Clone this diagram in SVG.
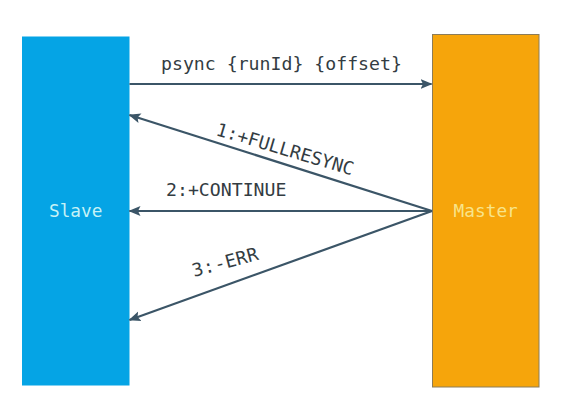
<svg xmlns="http://www.w3.org/2000/svg" width="588" height="406" viewBox="0 0 588 406">
  <style>
    .lbl { font-family: "DejaVu Sans Mono", "Liberation Mono", monospace; font-size: 18.2px; fill: #333c42; }
    .name { font-family: "DejaVu Sans Mono", "Liberation Mono", monospace; font-size: 17.8px; text-anchor: middle; }
    .conn { stroke: #3b5567; stroke-width: 2.2; fill: none; marker-end: url(#arrow); }
  </style>
  <defs>
    <marker id="arrow" markerUnits="userSpaceOnUse" markerWidth="12" markerHeight="12" viewBox="0 0 12 12" refX="11" refY="6" orient="auto">
      <path d="M0,1 L12,6 L0,11 L2.5,6 z" fill="#3b5567"/>
    </marker>
  </defs>
  <rect width="588" height="406" fill="#ffffff"/>
  <g id="slave">
    <rect x="22" y="36.5" width="107.5" height="349" fill="#05a4e5"/>
    <text class="name" x="75.7" y="217" fill="#c6f2f6">Slave</text>
  </g>
  <g id="master">
    <rect x="432.5" y="34.5" width="106.5" height="352.5" fill="#f6a50b" stroke="#8c7c58" stroke-width="1"/>
    <text class="name" x="485.7" y="217" fill="#f8e48a">Master</text>
  </g>
  <g id="connectors">
    <line class="conn" x1="129.5" y1="84" x2="431.5" y2="84"/>
    <line class="conn" x1="432" y1="211" x2="129.5" y2="115"/>
    <line class="conn" x1="432" y1="211" x2="129.5" y2="211"/>
    <line class="conn" x1="432" y1="211" x2="129.5" y2="320"/>
    <text class="lbl" x="161" y="70">psync {runId} {offset}</text>
    <text class="lbl" transform="translate(215,135) rotate(16.5)">1:+FULLRESYNC</text>
    <text class="lbl" x="166" y="196">2:+CONTINUE</text>
    <text class="lbl" transform="translate(194,277) rotate(-15)" letter-spacing="0.4">3:-ERR</text>
  </g>
</svg>
